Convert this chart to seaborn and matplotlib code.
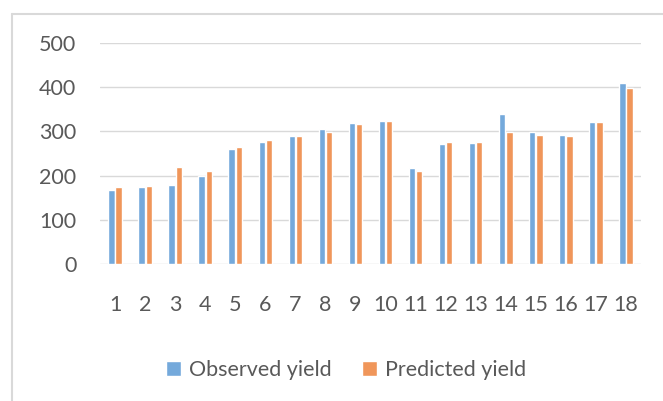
import matplotlib
matplotlib.use("Agg")
import matplotlib.pyplot as plt
import seaborn as sns
import pandas as pd
from matplotlib.lines import Line2D

# Yield per plot: observed vs model prediction
plots = [str(i) for i in range(1, 19)]
observed_yield = [168, 174, 180, 200, 261, 275, 290, 305, 318, 324,
                  217, 272, 274, 338, 298, 292, 321, 408]
predicted_yield = [174, 177, 220, 211, 264, 281, 290, 299, 316, 324,
                   211, 277, 277, 299, 292, 290, 321, 397]
series_names = ["Observed yield", "Predicted yield"]
y_ticks = [0, 100, 200, 300, 400, 500]

df = pd.DataFrame({
    "plot": plots * 2,
    "yield": observed_yield + predicted_yield,
    "series": [series_names[0]] * len(plots) + [series_names[1]] * len(plots),
})

sns.set_theme(style="white")
plt.rcParams["font.family"] = ["Lato", "DejaVu Sans"]

text_color = "#595959"
grid_color = "#D9D9D9"
palette = {"Observed yield": "#74A9DB", "Predicted yield": "#F0965A"}
fs = 15.5

fig = plt.figure(figsize=(6.63, 4.01), dpi=100)
ax = fig.add_axes([100 / 663, 1 - 264.3 / 401, 541 / 663, 221.6 / 401])

sns.barplot(data=df, x="plot", y="yield", hue="series", palette=palette,
            width=0.48, gap=0.12, saturation=1, ax=ax, zorder=3)

ax.set_ylim(0, 500)
ax.set_xlim(-0.5, len(plots) - 0.5)
ax.set_yticks(y_ticks)
ax.set_yticklabels([str(t) for t in y_ticks])
ax.yaxis.grid(True, color=grid_color, linewidth=1.0, zorder=0)
ax.xaxis.grid(False)
for s in ax.spines.values():
    s.set_visible(False)
ax.set_xlabel("")
ax.set_ylabel("")
ax.tick_params(axis="y", length=0, pad=17, labelsize=fs, labelcolor=text_color)
ax.tick_params(axis="x", length=0, pad=22, labelsize=fs, labelcolor=text_color)

# Legend below the plot area
ax.legend_.remove()
handles, labels = ax.get_legend_handles_labels()
fig.legend(handles, labels, loc="center", bbox_to_anchor=(346 / 663, 1 - 370 / 401),
           ncol=2, frameon=False, fontsize=fs, labelcolor=text_color,
           handlelength=0.7, handleheight=0.7, handletextpad=0.35,
           columnspacing=1.45)

# Chart-area border (left and top edges)
fig.add_artist(Line2D([11.5 / 663, 11.5 / 663], [0, 1 - 14 / 401],
                      transform=fig.transFigure, color="#D9D9D9", linewidth=1.5))
fig.add_artist(Line2D([11.5 / 663, 1], [1 - 14 / 401, 1 - 14 / 401],
                      transform=fig.transFigure, color="#D9D9D9", linewidth=1.5))

fig.savefig("out.png", dpi=100)
